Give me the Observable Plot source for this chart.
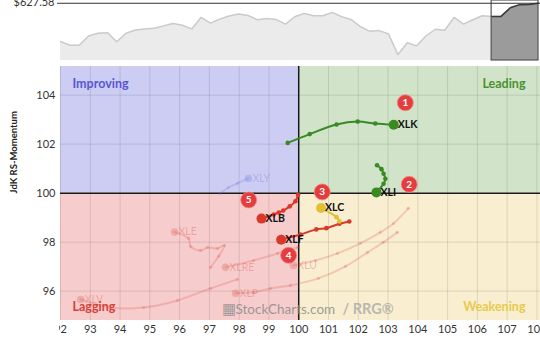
<!DOCTYPE html>
<html><head><meta charset="utf-8">
<script src="https://cdn.jsdelivr.net/npm/d3@7"></script>
<script src="https://cdn.jsdelivr.net/npm/@observablehq/plot@0.6"></script>
<style>
html,body{margin:0;padding:0;background:#fff;width:540px;height:340px;overflow:hidden;font-family:Lato,sans-serif}
#chart svg{display:block}
</style></head><body><div id="chart"></div>
<script>
// ---- price panel data ----
const priceLabel = "$627.58";
const lastPrice = 627.58;
const priceValues = [530.0,520.6,520.6,544.0,550.9,552.6,529.3,550.9,559.5,562.1,563.8,569.9,575.9,571.6,562.1,591.4,576.8,587.1,594.9,600.1,596.6,585.4,588.8,586.3,574.2,593.2,601.8,595.8,595.8,604.4,593.2,586.3,568.1,556.0,557.8,549.1,496.5,526.7,518.9,544.0,561.2,558.6,591.4,574.2,585.4,595.8,594.0,594.0,616.0,624.0,624.5,627.58];
const highlightStart = 46;
const priceDomain = [481.5, 634.6];

// ---- RRG data ----
const xDomain = [92.0, 108.12];
const yDomain = [94.8, 105.17];
const xTicks = [92,93,94,95,96,97,98,99,100,101,102,103,104,105,106,107,108];
const yTicks = [96,98,100,102,104];
const center = 100;
const yAxisTitle = "JdK RS-Momentum";

const quadrantNames = ["Improving","Leading","Lagging","Weakening"];
const quadrantFills = ["#cdcdf4","#d1e4c9","#f6cdcc","#f9eecf"];
const quadrantTextColors = ["#5757d2","#4a9230","#d9403a","#e6cb4c"];

// highlighted tickers (tail -> head)
const xlkX = [99.63,100.37,101.27,101.98,102.57,103.19];
const xlkY = [102.05,102.41,102.80,102.92,102.84,102.79];
const xliX = [102.63,102.78,102.85,102.91,102.85,102.61];
const xliY = [101.14,100.98,100.79,100.59,100.38,100.03];
const xlbX = [99.98,99.89,99.70,99.48,99.33,99.16,98.75];
const xlbY = [99.93,99.67,99.46,99.29,99.21,99.13,98.96];
const xlfX = [101.70,101.37,100.93,100.59,100.06,99.41];
const xlfY = [98.84,98.75,98.57,98.52,98.31,98.10];
const xlcX = [101.37,101.27,100.75];
const xlcY = [98.84,99.02,99.39];

// faded tickers (tail -> head)
const xlyX = [97.37,97.64,97.94,98.31];
const xlyY = [99.99,100.23,100.40,100.60];
const xleX = [97.04,97.31,97.51,97.27,96.94,96.70,96.37,96.30,95.83];
const xleY = [96.97,97.42,97.87,97.74,97.78,97.66,97.82,98.15,98.41];
const xlreX = [99.96,99.29,98.48,97.54];
const xlreY = [97.78,97.54,97.25,96.97];
const xluX = [103.68,103.18,102.74,102.07,101.30,100.56,99.82];
const xluY = [99.38,98.76,98.40,97.95,97.54,97.25,97.05];
const xlpX = [103.31,102.84,102.31,101.57,100.66,99.72,99.05,98.48,97.88];
const xlpY = [98.40,97.99,97.58,97.01,96.52,96.23,96.11,95.95,95.91];
const xlvX = [97.94,97.04,95.93,94.79,93.68,92.68];
const xlvY = [96.48,96.11,95.62,95.33,95.33,95.66];

const highlightNames = ["XLK","XLI","XLB","XLF","XLC"];
const highlightColors = ["#3a8a24","#3a8a24","#d8392b","#d8392b","#e3bf35"];
const fadedNames = ["XLY","XLE","XLRE","XLU","XLP","XLV"];
const fadedColors = ["#6b6bd8","#d9463c","#d9463c","#d9463c","#d9463c","#d9463c"];

const badgeNumbers = ["1","2","3","4","5"];
const badgeX = [103.58,103.71,100.79,99.66,98.32];
const badgeY = [103.69,100.36,100.05,97.46,99.72];

const watermarkMain = "StockCharts.com";
const watermarkTail = "/ RRG\u00AE";

// ---- build tables ----
const priceRows = priceValues.map((v,i)=>({i, v}));
const priceHi = priceRows.filter(d=>d.i>=highlightStart);

const hiSeries = [[xlkX,xlkY],[xliX,xliY],[xlbX,xlbY],[xlfX,xlfY],[xlcX,xlcY]];
const faSeries = [[xlyX,xlyY],[xleX,xleY],[xlreX,xlreY],[xluX,xluY],[xlpX,xlpY],[xlvX,xlvY]];
function rows(names, colors, series){
  const out=[];
  series.forEach(([xs,ys],k)=>xs.forEach((x,i)=>out.push({t:names[k], c:colors[k], x, y:ys[i], head:i===xs.length-1})));
  return out;
}
const hiRows = rows(highlightNames, highlightColors, hiSeries);
const faRows = rows(fadedNames, fadedColors, faSeries);

const quads = quadrantNames.map((name,k)=>({
  name, fill: quadrantFills[k], color: quadrantTextColors[k],
  x1: k%2===0 ? xDomain[0] : center, x2: k%2===0 ? center : xDomain[1],
  y1: k<2 ? center : yDomain[0], y2: k<2 ? yDomain[1] : center
}));
const badges = badgeNumbers.map((n,k)=>({n, x:badgeX[k], y:badgeY[k]}));

const FONT = "Lato, sans-serif";

// ---- price panel ----
const price = Plot.plot({
  width:540, height:60, marginTop:0, marginBottom:0, marginLeft:60, marginRight:2,
  style:{fontFamily:FONT, background:"transparent", overflow:"visible"},
  x:{domain:[0,priceValues.length-1], axis:null},
  y:{domain:priceDomain, axis:null},
  marks:[
    Plot.areaY(priceRows,{x:"i", y1:()=>priceDomain[0], y2:"v", fill:"#ebebeb"}),
    Plot.lineY(priceRows,{x:"i", y:"v", stroke:"#cbcbcb", strokeWidth:1.5}),
    Plot.areaY(priceHi,{x:"i", y1:()=>priceDomain[0], y2:"v", fill:"#9b9b9b"}),
    Plot.lineY(priceHi,{x:"i", y:"v", stroke:"#3a3a3a", strokeWidth:1.5}),
    Plot.rect([0],{x1:()=>highlightStart, x2:()=>priceValues.length-1, y1:()=>priceDomain[0], y2:()=>priceDomain[1], fill:"none", stroke:"#555", strokeWidth:1.2}),
    Plot.ruleY([lastPrice],{stroke:"#333", strokeWidth:1, insetLeft:-3, insetRight:-2}),
    Plot.text([priceLabel],{text:d=>d, y:()=>lastPrice, frameAnchor:"left", textAnchor:"end", lineAnchor:"middle", dx:-6, dy:-1, fontSize:11, fill:"#333"})
  ]
});

// ---- RRG panel ----
const main = Plot.plot({
  width:540, height:280, marginTop:6, marginBottom:20, marginLeft:60, marginRight:0,
  style:{fontFamily:FONT, fontSize:"11px", color:"#333", background:"transparent"},
  x:{domain:xDomain, label:null},
  y:{domain:yDomain, label:null},
  marks:[
    Plot.rect(quads,{x1:"x1", x2:"x2", y1:"y1", y2:"y2", fill:"fill"}),
    Plot.ruleX(xTicks,{stroke:"#000", strokeOpacity:0.11}),
    Plot.ruleY(yTicks,{stroke:"#000", strokeOpacity:0.11}),
    Plot.ruleX([center],{stroke:"#1a1a1a", strokeWidth:1.5}),
    Plot.ruleY([center],{stroke:"#1a1a1a", strokeWidth:1.5}),
    // quadrant labels
    Plot.text([quads[0]],{text:"name", fill:"color", frameAnchor:"top-left", textAnchor:"start", lineAnchor:"middle", dx:12, dy:17, fontSize:12.5, fontWeight:"bold"}),
    Plot.text([quads[1]],{text:"name", fill:"color", frameAnchor:"top-right", textAnchor:"end", lineAnchor:"middle", dx:-15, dy:17, fontSize:12.5, fontWeight:"bold"}),
    Plot.text([quads[2]],{text:"name", fill:"color", frameAnchor:"bottom-left", textAnchor:"start", lineAnchor:"middle", dx:12, dy:-14, fontSize:12.5, fontWeight:"bold"}),
    Plot.text([quads[3]],{text:"name", fill:"color", frameAnchor:"bottom-right", textAnchor:"end", lineAnchor:"middle", dx:-15, dy:-14, fontSize:12.5, fontWeight:"bold"}),
    // watermark
    Plot.text(["\u25A6"],{text:d=>d, frameAnchor:"bottom-left", textAnchor:"start", lineAnchor:"middle", dx:161, dy:-11, fontSize:15, fill:"#8a8a8a", fillOpacity:0.8}),
    Plot.text([watermarkMain],{text:d=>d, frameAnchor:"bottom-left", textAnchor:"start", lineAnchor:"middle", dx:175, dy:-11, fontSize:13.5, fill:"#8a8a8a", fillOpacity:0.85}),
    Plot.text([watermarkTail],{text:d=>d, frameAnchor:"bottom-left", textAnchor:"start", lineAnchor:"middle", dx:282, dy:-11, fontSize:14.5, fontWeight:"bold", fill:"#a8a8a8", fillOpacity:0.8}),
    // faded trails
    Plot.line(faRows,{x:"x", y:"y", z:"t", stroke:"c", strokeOpacity:0.22, strokeWidth:2, curve:"catmull-rom"}),
    Plot.dot(faRows.filter(d=>!d.head),{x:"x", y:"y", r:1.6, fill:"c", fillOpacity:0.22}),
    Plot.dot(faRows.filter(d=>d.head),{x:"x", y:"y", r:3.8, fill:"c", fillOpacity:0.26}),
    Plot.text(faRows.filter(d=>d.head),{x:"x", y:"y", text:"t", fill:"c", fillOpacity:0.33, textAnchor:"start", dx:4, fontSize:10.5}),
    // highlighted trails
    Plot.line(hiRows,{x:"x", y:"y", z:"t", stroke:"c", strokeWidth:2, curve:"catmull-rom"}),
    Plot.dot(hiRows.filter(d=>!d.head),{x:"x", y:"y", r:2.3, fill:"c"}),
    Plot.dot(hiRows.filter(d=>d.head),{x:"x", y:"y", r:5, fill:"c"}),
    Plot.text(hiRows.filter(d=>d.head),{x:"x", y:"y", text:"t", fill:"#111", textAnchor:"start", dx:4, fontSize:10.5, fontWeight:"bold"}),
    // badges
    Plot.dot(badges,{x:"x", y:"y", r:8, fill:"#e53c3d", stroke:"#f08a8a", strokeWidth:0.8}),
    Plot.text(badges,{x:"x", y:"y", text:"n", fill:"#fff", fontSize:10, fontWeight:"bold"}),
    // axes
    Plot.axisX({ticks:xTicks, tickSize:0, tickPadding:5, tickFormat:d=>String(d), fontSize:11, fill:"#333"}),
    Plot.axisY({ticks:yTicks, tickSize:0, tickPadding:5, tickFormat:d=>String(d), fontSize:11, fill:"#333", label:null}),
    Plot.text([yAxisTitle],{text:d=>d, frameAnchor:"left", rotate:-90, dx:-47, fontSize:9.5, fontWeight:"bold", fill:"#222"})
  ]
});

const root = document.getElementById("chart");
root.appendChild(price);
root.appendChild(main);

// clip x tick labels to the plotting frame's left edge
const s = d3.select(main);
s.append("defs").append("clipPath").attr("id","xclip").append("rect")
  .attr("x",58.5).attr("y",-10).attr("width",490).attr("height",320);
s.select('g[aria-label="x-axis tick label"]').attr("clip-path","url(#xclip)");
</script></body></html>
